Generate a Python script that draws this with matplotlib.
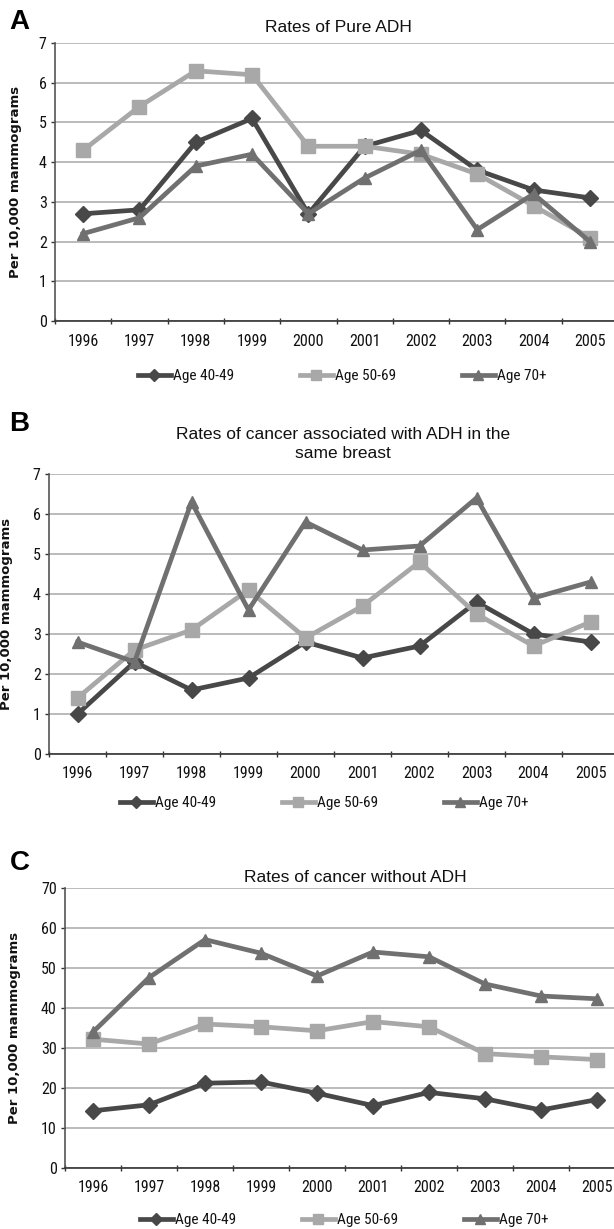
import matplotlib
matplotlib.use('Agg')
import matplotlib.pyplot as plt
import numpy as np
import logging

# ── DATA ──────────────────────────────────────────────────
years = ['1996', '1997', '1998', '1999', '2000', '2001', '2002', '2003', '2004', '2005']
series_names = ['Age 40-49', 'Age 50-69', 'Age 70+']

pure_adh_40 = [2.7, 2.8, 4.5, 5.1, 2.7, 4.4, 4.8, 3.8, 3.3, 3.1]
pure_adh_50 = [4.3, 5.4, 6.3, 6.2, 4.4, 4.4, 4.2, 3.7, 2.9, 2.1]
pure_adh_70 = [2.2, 2.6, 3.9, 4.2, 2.7, 3.6, 4.3, 2.3, 3.2, 2.0]

assoc_40 = [1.0, 2.3, 1.6, 1.9, 2.8, 2.4, 2.7, 3.8, 3.0, 2.8]
assoc_50 = [1.4, 2.6, 3.1, 4.1, 2.9, 3.7, 4.8, 3.5, 2.7, 3.3]
assoc_70 = [2.8, 2.3, 6.3, 3.6, 5.8, 5.1, 5.2, 6.4, 3.9, 4.3]

noadh_40 = [14.3, 15.8, 21.2, 21.5, 18.7, 15.6, 18.9, 17.3, 14.5, 17.1]
noadh_50 = [32.2, 31.0, 36.0, 35.3, 34.3, 36.6, 35.3, 28.6, 27.8, 27.1]
noadh_70 = [34.0, 47.6, 57.1, 53.7, 48.0, 54.0, 52.8, 46.0, 43.0, 42.3]

# ── STYLE ─────────────────────────────────────────────────
logging.getLogger('matplotlib.font_manager').setLevel(logging.ERROR)

NARROW = ['Roboto Condensed', 'Liberation Sans']
colors  = ['#484848', '#a8a8a8', '#707070']
markers = ['D', 's', '^']
msizes  = [8, 9.5, 9]

fig = plt.figure(figsize=(6.14, 12.29), dpi=100)
W, H = 614.0, 1229.0

def box(left, top, right, bottom):
    return [left / W, 1 - bottom / H, (right - left) / W, (bottom - top) / H]

panels = [
    dict(px=(55, 43, 618, 321), data=[pure_adh_40, pure_adh_50, pure_adh_70],
         ymax=7, ystep=1, letter='A', letter_xy=(19, 22),
         title='Rates of Pure ADH', title_xy=(338, 27),
         leg_xy=(342, 376), ylab_x=22),
    dict(px=(49, 474, 619, 754), data=[assoc_40, assoc_50, assoc_70],
         ymax=7, ystep=1, letter='B', letter_xy=(19, 424),
         title='Rates of cancer associated with ADH in the\nsame breast', title_xy=(343, 444),
         leg_xy=(324, 803), ylab_x=13),
    dict(px=(65, 888, 625, 1168), data=[noadh_40, noadh_50, noadh_70],
         ymax=70, ystep=10, letter='C', letter_xy=(20, 863),
         title='Rates of cancer without ADH', title_xy=(355, 877),
         leg_xy=(344, 1220), ylab_x=21),
]

x = np.arange(len(years))
for p in panels:
    left, top, right, bottom = p['px']
    ax = fig.add_axes(box(left, top, right, bottom))
    for vals, name, c, m, ms in zip(p['data'], series_names, colors, markers, msizes):
        ax.plot(x, vals, color=c, linewidth=3.4, marker=m, markersize=ms,
                markerfacecolor=c, markeredgecolor=c, label=name, zorder=3)

    ax.set_xlim(-0.5, len(years) - 0.5)
    ax.set_ylim(0, p['ymax'])
    ax.set_yticks(np.arange(0, p['ymax'] + 0.1, p['ystep']))
    ax.set_xticks(x)
    ax.set_xticklabels(years)
    ax.set_xticks(np.arange(-0.5, len(years)), minor=True)
    ax.tick_params(axis='x', which='major', length=0, pad=9)
    ax.tick_params(axis='x', which='minor', length=5, direction='inout', width=1.0, color='#333333')
    ax.tick_params(axis='y', length=3, width=1.0, pad=3, color='#333333')
    for lbl in ax.get_xticklabels() + ax.get_yticklabels():
        lbl.set_fontsize(11.5)
        lbl.set_family(NARROW)
        lbl.set_stretch('condensed')
        lbl.set_color('#111111')

    ax.yaxis.grid(True, color='#b5b5b5', linewidth=1.3)
    ax.set_axisbelow(True)
    for s in ['top', 'right']:
        ax.spines[s].set_visible(False)
    ax.spines['left'].set_color('#555555')
    ax.spines['left'].set_linewidth(1.2)
    ax.spines['bottom'].set_color('#333333')
    ax.spines['bottom'].set_linewidth(1.2)

    ax.set_ylabel('Per 10,000 mammograms', fontsize=9.5, fontweight='bold',
                  family='DejaVu Sans', color='#111111')
    ax.yaxis.set_label_coords((p['ylab_x'] - left) / (right - left), 0.5)

    fig.text(p['letter_xy'][0] / W, 1 - p['letter_xy'][1] / H, p['letter'],
             fontsize=20, fontweight='bold', family='Liberation Sans',
             ha='center', va='center', color='black')
    fig.text(p['title_xy'][0] / W, 1 - p['title_xy'][1] / H, p['title'],
             fontsize=12.5, family='Liberation Sans', ha='center', va='center',
             color='#111111', linespacing=1.3)

    ax.legend(loc='center', bbox_to_anchor=(p['leg_xy'][0] / W, 1 - p['leg_xy'][1] / H),
              bbox_transform=fig.transFigure, ncol=3, frameon=False,
              prop={'family': NARROW, 'size': 11, 'stretch': 'condensed'}, handlelength=2.2,
              handletextpad=0.1, columnspacing=4.3, markerscale=0.8,
              labelcolor='#111111')

fig.savefig('out.png', dpi=100, facecolor='white')
